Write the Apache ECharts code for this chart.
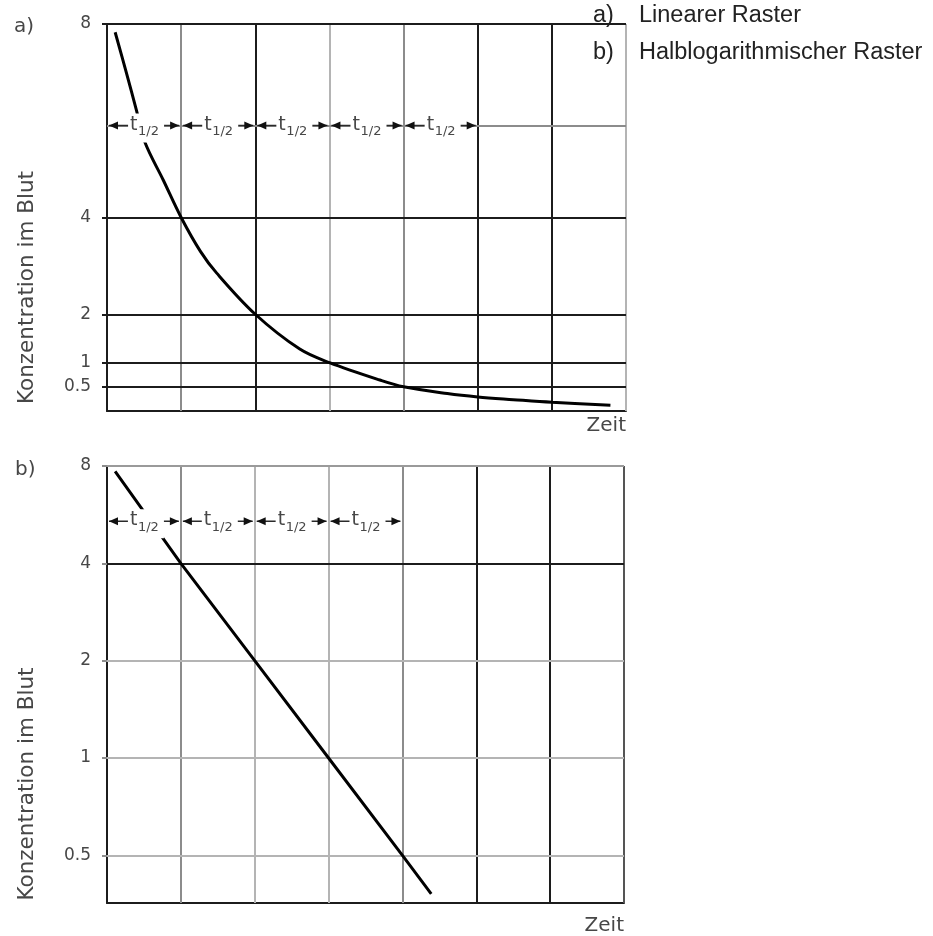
<!DOCTYPE html>
<html>
<head>
<meta charset="utf-8">
<script src="https://cdn.jsdelivr.net/npm/echarts@6/dist/echarts.min.js"></script>
<style>
  html, body { margin: 0; padding: 0; background: #fff; }
  #chart { width: 933px; height: 936px; }
</style>
</head>
<body>
<div id="chart"></div>
<script>
// Zeit in Halbwertszeiten (t1/2), Konzentration im Blut in relativen Einheiten
const timeLinear = [0.11, 0.26, 0.40, 0.51, 0.76, 1.0, 1.26, 1.48, 2.0, 2.6, 3.0, 3.68, 4.0, 4.59, 5.0, 5.48, 6.0, 6.79];
const concLinear = [7.83, 7.0, 6.2, 5.56, 4.77, 4.0, 3.3, 2.85, 2.0, 1.28, 1.0, 0.64, 0.5, 0.36, 0.29, 0.235, 0.18, 0.12];

const timeLog = [0.11, 1, 2, 3, 4, 4.39];
const concLog = [7.7, 4, 2, 1, 0.5, 0.38];

// Achsenbeschriftung der Konzentration
const yTickValues = [0.5, 1, 2, 4, 8];

// Halbwertszeit-Intervalle (Beginn, Ende) und Höhe der Pfeilzeile
const halfLivesLinear = [[0, 1], [1, 2], [2, 3], [3, 4], [4, 5]];
const halfLivesLog = [[0, 1], [1, 2], [2, 3], [3, 4]];
const arrowLevelLinear = 5.9;
const arrowLevelLog = 5.4;

// Rasterlinien
const timeGrid = [1, 2, 3, 4, 5, 6, 7];
const concGridLinear = [0.5, 1, 2, 4, 5.9, 8];
const concGridLog = [0.5, 1, 2, 4, 8];

const legendLetters = ['a)', 'b)'];
const legendTexts = ['Linearer Raster', 'Halblogarithmischer Raster'];

const BLACK = '#1c1c1c';
const GRAY = '#8c8c8c';
const LIGHT = '#b4b4b4';
const TEXT = '#474747';
const FONT = 'DejaVu Sans';

// Farben der Rasterlinien je Diagramm
const timeGridColorsA = [GRAY, BLACK, LIGHT, GRAY, BLACK, BLACK, LIGHT];
const concGridColorsA = [BLACK, BLACK, BLACK, BLACK, GRAY, BLACK];
const timeGridColorsB = [GRAY, LIGHT, LIGHT, GRAY, BLACK, BLACK, '#555'];
const concGridColorsB = [LIGHT, LIGHT, LIGHT, BLACK, '#9a9a9a'];

function gridLines(xs, xColors, ys, yColors) {
  return xs.map((v, i) => ({ xAxis: v, lineStyle: { color: xColors[i] } }))
    .concat(ys.map((v, i) => ({ yAxis: v, lineStyle: { color: yColors[i] } })));
}

function renderHalfLife(params, api) {
  const x0 = api.value(0), x1 = api.value(1), y = api.value(2);
  const p0 = api.coord([x0, y]);
  const p1 = api.coord([x1, y]);
  const cy = p0[1];
  const mid = (p0[0] + p1[0]) / 2;
  const ah = 9, aw = 4;
  return {
    type: 'group',
    children: [
      { type: 'line', shape: { x1: p0[0] + 2, y1: cy, x2: p1[0] - 2, y2: cy },
        style: { stroke: '#2a2a2a', lineWidth: 1.5 } },
      { type: 'rect', shape: { x: mid - 16, y: cy - 12, width: 36, height: 29 },
        style: { fill: '#fff' } },
      { type: 'polygon', shape: { points: [[p0[0] + 2, cy], [p0[0] + 2 + ah, cy - aw], [p0[0] + 2 + ah, cy + aw]] },
        style: { fill: '#111' } },
      { type: 'polygon', shape: { points: [[p1[0] - 2, cy], [p1[0] - 2 - ah, cy - aw], [p1[0] - 2 - ah, cy + aw]] },
        style: { fill: '#111' } },
      { type: 'text', style: { text: 't', x: mid - 14, y: cy - 1, fontSize: 19, fontFamily: FONT,
        fill: TEXT, align: 'left', verticalAlign: 'middle' } },
      { type: 'text', style: { text: '1/2', x: mid - 6, y: cy + 6, fontSize: 13, fontFamily: FONT,
        fill: TEXT, align: 'left', verticalAlign: 'middle' } }
    ]
  };
}

const yName = 'Konzentration im Blut';

function yAxisCommon(extra) {
  return Object.assign({
    name: yName,
    nameLocation: 'middle',
    nameRotate: 90,
    nameGap: 69,
    axisLine: { show: true, onZero: false, lineStyle: { color: BLACK, width: 2 } },
    axisTick: { show: true, customValues: yTickValues, length: 5, lineStyle: { color: BLACK, width: 2 } },
    axisLabel: { customValues: yTickValues, margin: 16, color: TEXT, fontSize: 17, fontFamily: FONT },
    splitLine: { show: false }
  }, extra);
}

function xAxisCommon(gridIndex, nameTop) {
  return {
    gridIndex: gridIndex,
    type: 'value',
    min: 0,
    max: 7,
    name: 'Zeit',
    nameLocation: 'end',
    nameGap: 0,
    nameTextStyle: { align: 'right', verticalAlign: 'top', padding: [nameTop, 0, 0, 0],
      color: TEXT, fontSize: 20, fontFamily: FONT },
    axisLine: { show: true, onZero: false, lineStyle: { color: BLACK, width: 2 } },
    axisTick: { show: false },
    axisLabel: { show: false },
    splitLine: { show: false }
  };
}

const markLineBase = {
  silent: true,
  symbol: 'none',
  z: 1,
  animation: false,
  label: { show: false },
  emphasis: { disabled: true },
  lineStyle: { type: 'solid', width: 2 }
};

const chart = echarts.init(document.getElementById('chart'), null, { renderer: 'canvas' });

chart.setOption({
  backgroundColor: '#fff',
  animation: false,
  title: [
    { text: 'a)', left: 9, top: 12, textStyle: { color: TEXT, fontSize: 20, fontWeight: 'normal', fontFamily: FONT } },
    { text: 'b)', left: 10, top: 455, textStyle: { color: TEXT, fontSize: 20, fontWeight: 'normal', fontFamily: FONT } }
  ],
  graphic: legendLetters.map((l, i) => ({
    type: 'group',
    left: 593,
    top: 4 + i * 37,
    children: [
      { type: 'text', x: 0, y: 0, style: { text: l, fontSize: 23.5, fontFamily: 'Liberation Sans', fill: '#222' } },
      { type: 'text', x: 46, y: 0, style: { text: legendTexts[i], fontSize: 23.5, fontFamily: 'Liberation Sans', fill: '#222' } }
    ]
  })),
  grid: [
    { left: 107, top: 24, width: 519, height: 387 },
    { left: 107, top: 466, width: 517, height: 437 }
  ],
  xAxis: [xAxisCommon(0, 5), xAxisCommon(1, 13)],
  yAxis: [
    yAxisCommon({ gridIndex: 0, type: 'value', min: 0, max: 8,
      nameTextStyle: { color: TEXT, fontSize: 21.5, fontFamily: FONT, padding: [0, 140, 0, 0] } }),
    yAxisCommon({ gridIndex: 1, type: 'log', logBase: 2, min: 0.356, max: 8,
      axisTick: { show: true, customValues: yTickValues, length: 5, lineStyle: { color: GRAY, width: 2 } },
      nameTextStyle: { color: TEXT, fontSize: 21.5, fontFamily: FONT, padding: [0, 199, 0, 0] } })
  ],
  series: [
    {
      name: 'Raster linear',
      type: 'line',
      xAxisIndex: 0, yAxisIndex: 0,
      data: [],
      clip: false,
      silent: true,
      markLine: Object.assign({}, markLineBase, {
        data: gridLines(timeGrid, timeGridColorsA, concGridLinear, concGridColorsA)
      })
    },
    {
      name: 'Raster halblogarithmisch',
      type: 'line',
      xAxisIndex: 1, yAxisIndex: 1,
      data: [],
      clip: false,
      silent: true,
      markLine: Object.assign({}, markLineBase, {
        data: gridLines(timeGrid, timeGridColorsB, concGridLog, concGridColorsB)
      })
    },
    {
      name: 'Konzentration linear',
      type: 'line',
      xAxisIndex: 0, yAxisIndex: 0,
      z: 3,
      smooth: 0.35,
      showSymbol: false,
      silent: true,
      lineStyle: { color: '#000', width: 3 },
      data: timeLinear.map((t, i) => [t, concLinear[i]])
    },
    {
      name: 'Konzentration halblogarithmisch',
      type: 'line',
      xAxisIndex: 1, yAxisIndex: 1,
      z: 3,
      showSymbol: false,
      silent: true,
      lineStyle: { color: '#000', width: 3 },
      data: timeLog.map((t, i) => [t, concLog[i]])
    },
    {
      name: 'Halbwertszeiten linear',
      type: 'custom',
      xAxisIndex: 0, yAxisIndex: 0,
      z: 4,
      silent: true,
      clip: false,
      renderItem: renderHalfLife,
      encode: { x: [0, 1], y: 2 },
      data: halfLivesLinear.map(d => [d[0], d[1], arrowLevelLinear])
    },
    {
      name: 'Halbwertszeiten halblogarithmisch',
      type: 'custom',
      xAxisIndex: 1, yAxisIndex: 1,
      z: 4,
      silent: true,
      clip: false,
      renderItem: renderHalfLife,
      encode: { x: [0, 1], y: 2 },
      data: halfLivesLog.map(d => [d[0], d[1], arrowLevelLog])
    }
  ]
});
</script>
</body>
</html>
